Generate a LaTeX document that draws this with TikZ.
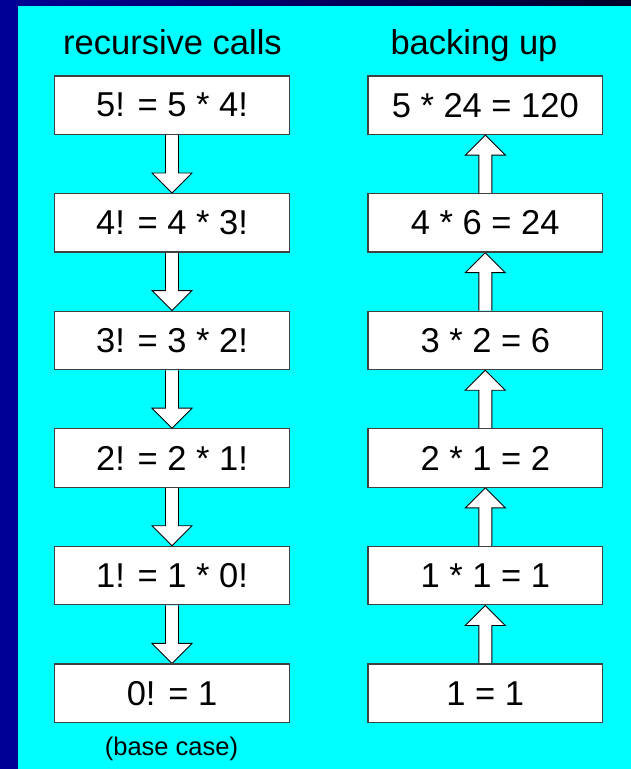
\documentclass[tikz,border=0pt]{standalone}
\usepackage{fontspec}
\setmainfont{Liberation Sans}
\usetikzlibrary{calc,backgrounds}
\definecolor{bgcyan}{RGB}{0,255,255}
\definecolor{frameblue}{RGB}{0,0,150}
\definecolor{framedark}{RGB}{0,0,40}
\begin{document}
\begin{tikzpicture}[x=1pt,y=1pt,
  eqbox/.style={draw=black!75, line width=1.2pt, fill=white, minimum width=234.6pt,
    minimum height=58.5pt, inner sep=0pt, font=\fontsize{34.5}{40}\selectfont},
  heading/.style={anchor=base, inner sep=0pt, font=\fontsize{34.5}{40}\selectfont},
  notelabel/.style={anchor=base, inner sep=0pt, font=\fontsize{25.5}{30}\selectfont},
  blockarrow/.style={draw=black, line width=0.9pt, fill=white, line join=miter}]
\useasboundingbox (0,0) rectangle (631,769);
% boxes
\node[eqbox] (l0) at (172,663.75) {5! = 5 * 4!};
\node[eqbox] (l1) at (172,546.15) {4! = 4 * 3!};
\node[eqbox] (l2) at (172,428.55) {3! = 3 * 2!};
\node[eqbox] (l3) at (172,310.95) {2! = 2 * 1!};
\node[eqbox] (l4) at (172,193.35) {1! = 1 * 0!};
\node[eqbox] (l5) at (172,75.75) {0! = 1};
\node[eqbox] (r0) at (485.3,663.75) {5 * 24 = 120};
\node[eqbox] (r1) at (485.3,546.15) {4 * 6 = 24};
\node[eqbox] (r2) at (485.3,428.55) {3 * 2 = 6};
\node[eqbox] (r3) at (485.3,310.95) {2 * 1 = 2};
\node[eqbox] (r4) at (485.3,193.35) {1 * 1 = 1};
\node[eqbox] (r5) at (485.3,75.75) {1 = 1};
% labels
\node[heading] (hl) at (172.5,714) {recursive calls};
\node[heading] (hr) at (474,714) {backing up};
\node[notelabel] (bc) at (171.5,13) {(base case)};
\begin{scope}[on background layer]
  \fill[bgcyan] (0,0) rectangle (631,769);
  \shade[left color=frameblue, right color=framedark] (0,763) rectangle (631,769);
  \fill[frameblue] (0,0) rectangle (18,769);
  \foreach \a/\b in {l0/l1,l1/l2,l2/l3,l3/l4,l4/l5}{
    \draw[blockarrow] ($(\a.south)+(-6.5,0)$) -- ($(\b.north)+(-6.5,20)$)
      -- ($(\b.north)+(-20,20)$) -- (\b.north) -- ($(\b.north)+(20,20)$)
      -- ($(\b.north)+(6.5,20)$) -- ($(\a.south)+(6.5,0)$);
  }
  \foreach \a/\b in {r1/r0,r2/r1,r3/r2,r4/r3,r5/r4}{
    \draw[blockarrow] ($(\a.north)+(-6.5,0)$) -- ($(\b.south)+(-6.5,-20)$)
      -- ($(\b.south)+(-20,-20)$) -- (\b.south) -- ($(\b.south)+(20,-20)$)
      -- ($(\b.south)+(6.5,-20)$) -- ($(\a.north)+(6.5,0)$);
  }
\end{scope}
\end{tikzpicture}
\end{document}
